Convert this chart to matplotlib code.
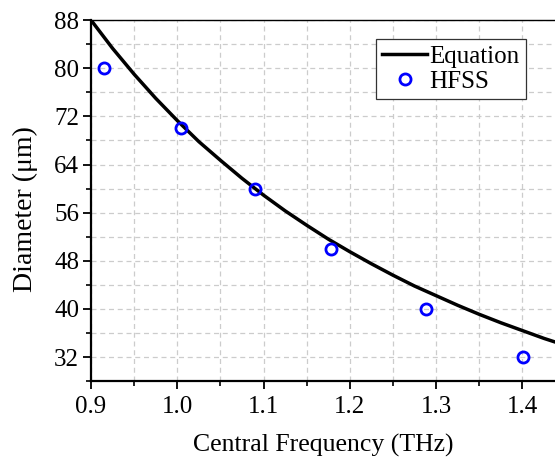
import matplotlib
matplotlib.use("Agg")
import matplotlib.pyplot as plt
import matplotlib.font_manager as fm
from matplotlib.ticker import MultipleLocator

# make sure a Times-like serif is available
names = {f.name for f in fm.fontManager.ttflist}
if 'Liberation Serif' not in names:
    for p in fm.findSystemFonts():
        if 'liberationserif' in p.lower().replace('-', '').replace(' ', ''):
            try:
                fm.fontManager.addfont(p)
            except Exception:
                pass
plt.rcParams['font.family'] = ['Liberation Serif', 'DejaVu Serif']

# Equation curve values
eq_freq = [0.900, 0.925, 0.950, 0.975, 1.000, 1.025, 1.050, 1.075, 1.100, 1.125, 1.150, 1.175,
           1.200, 1.225, 1.250, 1.275, 1.300, 1.325, 1.350, 1.375, 1.400, 1.425, 1.440]
eq_diam = [88.0, 83.3, 79.0, 75.0, 71.3, 67.8, 64.7, 61.7, 58.9, 56.3, 53.9, 51.6,
           49.5, 47.5, 45.6, 43.8, 42.2, 40.6, 39.1, 37.7, 36.4, 35.1, 34.4]

# HFSS simulated points
hfss_freq = [0.915, 1.004, 1.090, 1.178, 1.288, 1.401]
hfss_diam = [80, 70, 60, 50, 40, 32]

fig = plt.figure(figsize=(5.55, 4.57), dpi=100)
ax = fig.add_axes([0.164, 0.166, 0.836, 0.790])

ax.plot(eq_freq, eq_diam, color='black', lw=2.5, label='Equation', zorder=3,
        solid_joinstyle='round')
ax.plot(hfss_freq, hfss_diam, 'o', mfc='none', mec='#0000ff', mew=2.0, ms=8,
        label='HFSS', zorder=4, clip_on=False)

ax.set_xlim(0.9, 1.4377)
ax.set_ylim(28, 88)
ax.xaxis.set_major_locator(MultipleLocator(0.1))
ax.xaxis.set_minor_locator(MultipleLocator(0.05))
ax.yaxis.set_minor_locator(MultipleLocator(4))
ax.set_yticks([32, 40, 48, 56, 64, 72, 80, 88])

ax.grid(True, which='both', color='#cccccc', ls=(0, (4, 3)), lw=0.9)
ax.set_axisbelow(True)

for s in ['left', 'bottom']:
    ax.spines[s].set_linewidth(1.6)
ax.spines['top'].set_linewidth(1.0)
ax.spines['right'].set_visible(False)

ax.tick_params(which='major', direction='out', length=5.5, width=1.3, labelsize=18, pad=3)
ax.tick_params(which='minor', direction='out', length=3.5, width=1.2)
ax.tick_params(axis='x', which='major', pad=5)
ax.tick_params(top=False, right=False, which='both')

ax.set_xlabel('Central Frequency (THz)', fontsize=18.5, labelpad=12)
ax.set_ylabel('Diameter (μm)', fontsize=20)
ax.yaxis.set_label_coords(-0.115, 0.476)

leg = ax.legend(loc='upper right', bbox_to_anchor=(0.9375, 0.947), fontsize=18,
                frameon=True, fancybox=False, edgecolor='#333333', framealpha=1,
                handlelength=1.8, handletextpad=0.1, borderpad=0.25, labelspacing=0.1,
                borderaxespad=0)
leg.get_frame().set_linewidth(0.9)

fig.savefig('out.png', dpi=100)
